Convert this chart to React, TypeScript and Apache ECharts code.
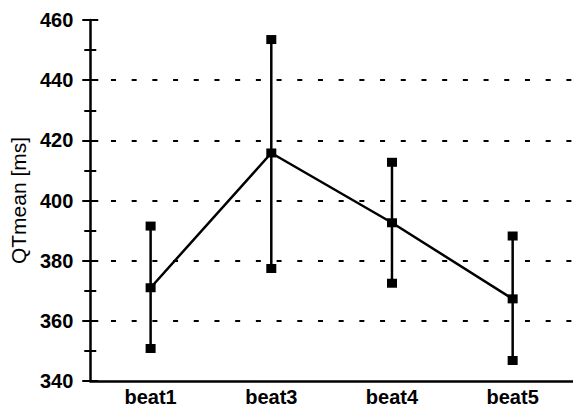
import React, { useEffect, useRef } from "react";
import * as echarts from "echarts";

const categories = ["beat1", "beat3", "beat4", "beat5"];
const meanValues = [371, 415.8, 392.6, 367.3];
const upperValues = [391.5, 453.5, 412.7, 388.2];
const lowerValues = [350.8, 377.4, 372.5, 346.8];

const yMin = 340;
const yMax = 460;
const yInterval = 20;

const FONT = "'Liberation Sans', Arial, Helvetica, sans-serif";

export default function App() {
  const ref = useRef<HTMLDivElement>(null);

  useEffect(() => {
    if (!ref.current) return;
    const chart = echarts.init(ref.current, null, { renderer: "svg" });

    const errorData = categories.map((_, i) => [i, lowerValues[i], upperValues[i]]);

    const option: any = {
      animation: false,
      backgroundColor: "#ffffff",
      grid: { left: 88, right: -7.5, top: 20, bottom: 29, containLabel: false },
      xAxis: {
        type: "category",
        data: categories,
        boundaryGap: true,
        axisLine: { show: true, lineStyle: { color: "#000", width: 2.5 } },
        axisTick: { show: false },
        axisLabel: {
          color: "#000",
          fontFamily: FONT,
          fontWeight: "bold",
          fontSize: 20,
          margin: 6,
        },
        splitLine: { show: false },
      },
      yAxis: [
        {
          type: "value",
          min: yMin,
          max: yMax,
          interval: yInterval,
          name: "QTmean [ms]",
          nameLocation: "middle",
          nameRotate: 90,
          nameGap: 58,
          nameTextStyle: { color: "#000000", fontFamily: FONT, fontSize: 21 },
          axisLine: { show: true, lineStyle: { color: "#000", width: 2.5 } },
          axisTick: { show: true, inside: false, length: 8, lineStyle: { color: "#000", width: 2 } },
          minorTick: { show: true, splitNumber: 2, length: 6, lineStyle: { color: "#000", width: 2 } },
          axisLabel: {
            color: "#000",
            fontFamily: FONT,
            fontWeight: "bold",
            fontSize: 20,
            margin: 17,
          },
          splitLine: {
            show: true,
            showMinLine: false,
            showMaxLine: false,
            lineStyle: { color: "#000", width: 2, type: [5, 15.7], dashOffset: 0 },
          },
        },
        {
          type: "value",
          min: yMin,
          max: yMax,
          interval: yInterval,
          position: "left",
          offset: 0,
          axisLine: { show: false },
          axisTick: { show: true, inside: true, length: 8, lineStyle: { color: "#000", width: 2 } },
          minorTick: { show: true, splitNumber: 2, length: 6, lineStyle: { color: "#000", width: 2 } },
          axisLabel: { show: false },
          splitLine: { show: false },
        },
      ],
      series: [
        {
          type: "custom",
          yAxisIndex: 0,
          data: errorData,
          encode: { x: 0, y: [1, 2] },
          renderItem: (params: any, api: any) => {
            const x = api.value(0);
            const lo = api.coord([x, api.value(1)]);
            const hi = api.coord([x, api.value(2)]);
            const w = 10;
            const h = 9;
            return {
              type: "group",
              children: [
                {
                  type: "line",
                  shape: { x1: lo[0], y1: lo[1], x2: hi[0], y2: hi[1] },
                  style: { stroke: "#000", lineWidth: 2.5 },
                },
                {
                  type: "rect",
                  shape: { x: hi[0] - w / 2, y: hi[1] - h / 2, width: w, height: h },
                  style: { fill: "#000" },
                },
                {
                  type: "rect",
                  shape: { x: lo[0] - w / 2, y: lo[1] - h / 2, width: w, height: h },
                  style: { fill: "#000" },
                },
              ],
            };
          },
          z: 2,
        },
        {
          type: "line",
          yAxisIndex: 0,
          data: meanValues,
          symbol: "rect",
          symbolSize: [10, 9],
          lineStyle: { color: "#000", width: 2.5 },
          itemStyle: { color: "#000" },
          z: 3,
        },
      ],
    };

    chart.setOption(option);
    return () => chart.dispose();
  }, []);

  return (
    <div
      ref={ref}
      style={{ position: "fixed", left: 0, top: 0, width: 573, height: 410, background: "#fff" }}
    />
  );
}
